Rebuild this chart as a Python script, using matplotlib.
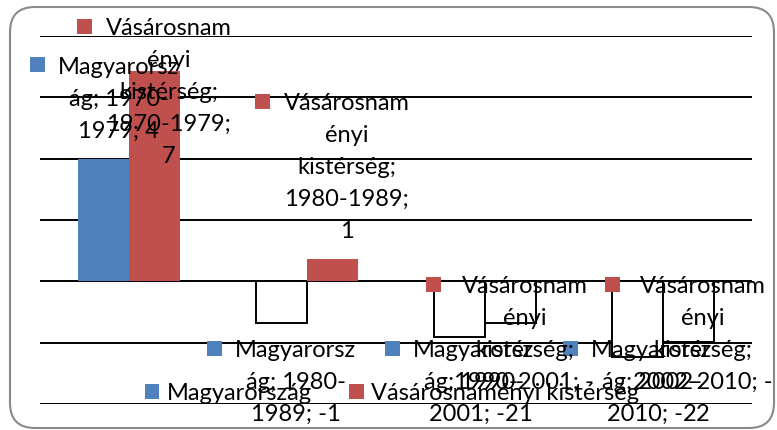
import matplotlib
matplotlib.use("Agg")
import matplotlib.pyplot as plt
import numpy as np
from matplotlib.patches import FancyBboxPatch, Patch, Rectangle
from matplotlib.transforms import IdentityTransform
from matplotlib.font_manager import FontProperties

periods = ["1970-1979", "1980-1989", "1990-2001", "2002-2010"]
series_names = ["Magyarország", "Vásárosnaményi kistérség"]
hu_values = [4.0, -1.37, -1.83, -2.48]
vnk_values = [6.85, 0.72, -1.37, -1.99]
series_colors = ["#4F81BD", "#C0504D"]
y_ticks = [-4, -2, 0, 2, 4, 6, 8]

W, H = 777, 430
FS = 17
fp = FontProperties(family=["Lato", "DejaVu Sans"], size=FS)
plt.rcParams["font.family"] = ["Lato", "DejaVu Sans"]

fig = plt.figure(figsize=(W / 100, H / 100), dpi=100)
px = IdentityTransform()

# chart area border (rounded)
fig.patches.append(FancyBboxPatch((10, 2), 764, 421, boxstyle="round,pad=0,rounding_size=25",
                                  transform=px, facecolor="none", edgecolor="#8a8a8a", lw=1.5))

ax = fig.add_axes([40 / W, 1 - 404 / H, 712 / W, 368 / H])
ax.patch.set_visible(False)
x = np.arange(len(periods))
bw = 1 / 3.5
all_vals = [hu_values, vnk_values]
for k, (vals, col) in enumerate(zip(all_vals, series_colors)):
    faces = [col if v >= 0 else "white" for v in vals]
    edges = [col if v >= 0 else "black" for v in vals]
    lws = [0 if v >= 0 else 1.4 for v in vals]
    ax.bar(x + (k - 0.5) * bw, vals, bw, color=faces, edgecolor=edges, linewidth=lws, zorder=2)

ax.set_xlim(-0.5, 3.5)
ax.set_ylim(y_ticks[0], y_ticks[-1])
ax.set_yticks(y_ticks)
ax.set_xticks([])
ax.grid(axis="y", color="black", lw=1.4, zorder=1)
ax.set_axisbelow(True)
ax.tick_params(length=0, labelleft=False)
for s in ax.spines.values():
    s.set_visible(False)

renderer = fig.canvas.get_renderer()


def tw(s):
    return renderer.get_text_width_height_descent(s, fp, ismath=False)[0]


def tokens(s):
    out, cur = [], ""
    for ch in s:
        cur += ch
        if ch in " -":
            out.append(cur)
            cur = ""
    if cur:
        out.append(cur)
    return out


def wrap(s, fill_w, word_w):
    lines, cur = [], ""
    for t in tokens(s):
        if tw((cur + t).rstrip()) <= fill_w:
            cur += t
            continue
        if cur:
            lines.append(cur.rstrip())
            cur = ""
        if tw(t.rstrip()) <= word_w:
            cur = t
        else:
            # long word: break it by characters
            for ch in t:
                if tw((cur + ch).rstrip()) <= word_w:
                    cur += ch
                else:
                    lines.append(cur)
                    cur = ch
    if cur.strip():
        lines.append(cur.rstrip())
    return lines


# data label wrap widths (the spreadsheet used Calibri, these mimic its breaks)
word_w = tw("Vásárosnam") + 0.5
fill_w = tw(periods[2] + "; -") + 0.5
LH = 32
KEY, KGAP = 15, 13

for k, vals in enumerate(all_vals):
    for i, v in enumerate(vals):
        lines = wrap(f"{series_names[k]}; {periods[i]}; {v:.0f}", fill_w, word_w)
        n = len(lines)
        xc, yv = ax.transData.transform((x[i] + (k - 0.5) * bw, v))
        yv = H - yv
        if v >= 0:
            top = yv - 12 - n * LH
            top = max(top, 12)
        else:
            top = yv + 12
            top = min(top, H - n * LH)
        wmax = max(tw(l) for l in lines)
        left = max(xc - (KEY + KGAP + wmax) / 2, 30)
        tx = left + KEY + KGAP + wmax / 2
        c0 = top + LH / 2
        fig.patches.append(Rectangle((left, H - c0 - KEY / 2 + 2), KEY, KEY, transform=px,
                                     facecolor=series_colors[k], edgecolor="none", zorder=5))
        for j, l in enumerate(lines):
            fig.text(tx, H - (c0 + j * LH + 7), l, transform=px, ha="center", va="baseline",
                     fontproperties=fp, color="black", zorder=6)

handles = [Patch(facecolor=c, edgecolor="none") for c in series_colors]
fig.legend(handles, series_names, loc="center", bbox_to_anchor=(392 / W, 1 - 393 / H), ncol=2,
           frameon=False, prop=fp, handlelength=0.6, handleheight=0.6, handletextpad=0.3,
           columnspacing=1.6, borderpad=0)

fig.savefig("out.png", dpi=100)
